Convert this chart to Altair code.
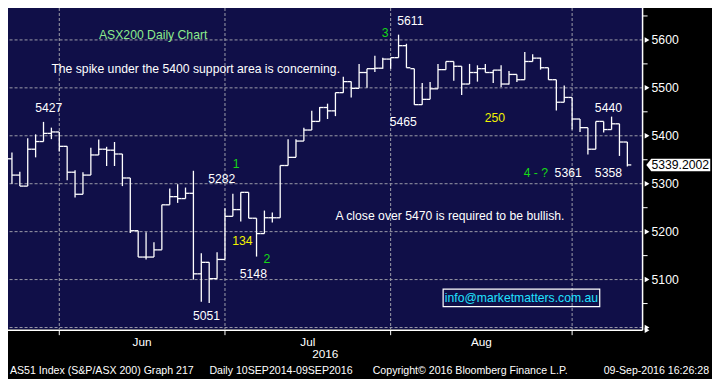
import altair as alt
import pandas as pd

# ---------------- data ----------------
dates = [
    "2016-05-23", "2016-05-24", "2016-05-25", "2016-05-26", "2016-05-27", "2016-05-30", "2016-05-31",
    "2016-06-01", "2016-06-02", "2016-06-03", "2016-06-06", "2016-06-07", "2016-06-08", "2016-06-09",
    "2016-06-10", "2016-06-14", "2016-06-15", "2016-06-16", "2016-06-17", "2016-06-20", "2016-06-21",
    "2016-06-22", "2016-06-23", "2016-06-24", "2016-06-27", "2016-06-28", "2016-06-29", "2016-06-30",
    "2016-07-01", "2016-07-04", "2016-07-05", "2016-07-06", "2016-07-07", "2016-07-08", "2016-07-11",
    "2016-07-12", "2016-07-13", "2016-07-14", "2016-07-15", "2016-07-18", "2016-07-19", "2016-07-20",
    "2016-07-21", "2016-07-22", "2016-07-25", "2016-07-26", "2016-07-27", "2016-07-28", "2016-07-29",
    "2016-08-01", "2016-08-02", "2016-08-03", "2016-08-04", "2016-08-05", "2016-08-08", "2016-08-09",
    "2016-08-10", "2016-08-11", "2016-08-12", "2016-08-15", "2016-08-16", "2016-08-17", "2016-08-18",
    "2016-08-19", "2016-08-22", "2016-08-23", "2016-08-24", "2016-08-25", "2016-08-26", "2016-08-29",
    "2016-08-30", "2016-08-31", "2016-09-01", "2016-09-02", "2016-09-05", "2016-09-06", "2016-09-07",
    "2016-09-08", "2016-09-09",
]
opens = [5352, 5318, 5295, 5372, 5388, 5405, 5408, 5378, 5324, 5278, 5318, 5360, 5372, 5370,
         5362, 5312, 5202, 5147, 5147, 5162, 5256, 5273, 5269, 5280, 5112, 5136, 5102, 5142,
         5232, 5246, 5282, 5228, 5196, 5229, 5229, 5338, 5355, 5389, 5412, 5430, 5459, 5452,
         5490, 5513, 5499, 5532, 5540, 5541, 5560, 5563, 5588, 5540, 5465, 5476, 5498, 5538,
         5555, 5545, 5508, 5532, 5540, 5532, 5537, 5508, 5528, 5517, 5555, 5562, 5542, 5517,
         5470, 5480, 5435, 5417, 5372, 5430, 5413, 5425, 5387]
highs = [5365, 5325, 5395, 5403, 5429, 5417, 5408, 5378, 5328, 5324, 5375, 5392, 5377, 5387,
         5362, 5312, 5202, 5199, 5178, 5256, 5290, 5299, 5292, 5327, 5155, 5136, 5157, 5249,
         5279, 5282, 5282, 5228, 5244, 5240, 5338, 5393, 5393, 5417, 5452, 5460, 5467, 5490,
         5523, 5513, 5550, 5540, 5567, 5563, 5563, 5611, 5592, 5540, 5510, 5512, 5550, 5555,
         5555, 5545, 5550, 5547, 5550, 5537, 5547, 5535, 5528, 5575, 5570, 5563, 5542, 5517,
         5505, 5480, 5435, 5417, 5430, 5430, 5440, 5425, 5387]
lows = [5300, 5295, 5295, 5355, 5388, 5393, 5367, 5307, 5271, 5278, 5318, 5360, 5337, 5337,
        5295, 5197, 5147, 5142, 5147, 5162, 5256, 5260, 5269, 5100, 5054, 5051, 5102, 5142,
        5232, 5221, 5228, 5148, 5196, 5219, 5229, 5338, 5355, 5389, 5412, 5430, 5435, 5441,
        5490, 5480, 5499, 5500, 5533, 5540, 5540, 5563, 5542, 5465, 5465, 5476, 5498, 5538,
        5515, 5485, 5508, 5513, 5532, 5510, 5502, 5507, 5512, 5517, 5555, 5538, 5517, 5453,
        5470, 5413, 5408, 5361, 5372, 5407, 5413, 5358, 5336]
closes = [5318, 5295, 5372, 5388, 5405, 5408, 5378, 5324, 5278, 5318, 5360, 5372, 5370, 5362,
          5312, 5202, 5147, 5147, 5162, 5256, 5273, 5269, 5280, 5112, 5136, 5102, 5142, 5232,
          5246, 5282, 5228, 5196, 5229, 5229, 5338, 5355, 5389, 5412, 5430, 5459, 5452, 5490,
          5513, 5499, 5532, 5540, 5541, 5560, 5563, 5588, 5542, 5465, 5476, 5498, 5538, 5555,
          5545, 5508, 5532, 5540, 5532, 5537, 5508, 5528, 5517, 5555, 5562, 5542, 5517, 5470,
          5480, 5435, 5417, 5372, 5430, 5413, 5425, 5387, 5339.2002]

last_price = 5339.2002
month_ends = [6, 27, 48, 71]          # last trading day of May, Jun, Jul, Aug
month_names = ["Jun", "Jul", "Aug"]
grid_levels = [5000, 5100, 5200, 5300, 5400, 5500, 5600]
label_levels = [5100, 5200, 5300, 5400, 5500, 5600]
minor_levels = [5050, 5150, 5250, 5350, 5450, 5550, 5650]
year_label = "2016"

ann_text = ["ASX200 Daily Chart", "The spike under the 5400 support area is concerning.", "5427", "1",
            "5282", "134", "2", "5148", "5051", "3", "5611", "5465", "250", "4 - ?", "5361", "5440",
            "5358", "A close over 5470 is required to be bullish."]
ann_i = [17.9, 5.0, 4.67, 28.4, 26.6, 29.2, 32.3, 30.6, 24.66, 47.3, 50.5, 49.6, 61.2, 66.4, 70.5,
         75.6, 75.6, 41.0]
ann_v = [5610, 5539, 5457, 5341, 5310, 5180, 5142, 5112, 5023, 5615, 5640, 5429, 5437, 5322, 5322,
         5458, 5322, 5233]
ann_color = ["#8CEB8C", "#FFFFFF", "#FFFFFF", "#16D816", "#FFFFFF", "#F2F200", "#16D816", "#FFFFFF",
             "#FFFFFF", "#16D816", "#FFFFFF", "#FFFFFF", "#F2F200", "#16D816", "#FFFFFF", "#FFFFFF",
             "#FFFFFF", "#FFFFFF"]
ann_align = ["center", "left", "center", "center", "center", "center", "center", "center", "center",
             "center", "center", "center", "center", "center", "center", "center", "center", "left"]

email_text = "info@marketmatters.com.au"
email_i = [54.65, 74.5]
email_v = [5043.4, 5080.0]

footer_text = ["AS51 Index (S&P/ASX 200) Graph 217", "Daily 10SEP2014-09SEP2016",
               "Copyright\u00a9 2016 Bloomberg Finance L.P.", "09-Sep-2016 16:26:28"]

# ---------------- layout ----------------
SX = 704 / 720
SY = 371 / 387
W = 649 * SX
H = 335 * SY
FONT = "Liberation Sans"
NAVY = "#100F48"

df = pd.DataFrame({"i": list(range(len(dates))), "date": dates, "open": opens,
                   "high": highs, "low": lows, "close": closes})
df["il"] = df["i"] - 0.5
df["ir"] = df["i"] + 0.5

xs = alt.Scale(domain=[-0.5, 79.93], nice=False, zero=False)
ys = alt.Scale(domain=[4996.6, 5666.6], nice=False, zero=False)


def X(field):
    return alt.X(field, scale=xs, axis=None)


def Y(field):
    return alt.Y(field, scale=ys, axis=None)


grid_y = alt.Chart(pd.DataFrame({"v": grid_levels})).mark_rule(
    color="#9C9CA8", strokeDash=[3, 2], strokeWidth=1).encode(y=Y("v:Q"))
grid_x = alt.Chart(pd.DataFrame({"m": month_ends})).mark_rule(
    color="#9C9CA8", strokeDash=[3, 2], strokeWidth=1).encode(x=X("m:Q"))

hl = alt.Chart(df).mark_rule(color="white", strokeWidth=1.3).encode(
    x=X("i:Q"), y=Y("low:Q"), y2="high:Q")
op = alt.Chart(df).mark_rule(color="white", strokeWidth=1.3).encode(
    x=X("il:Q"), x2="i:Q", y=Y("open:Q"))
cl = alt.Chart(df).mark_rule(color="white", strokeWidth=1.3).encode(
    x=X("i:Q"), x2="ir:Q", y=Y("close:Q"))

ann_df = pd.DataFrame({"t": ann_text, "i": ann_i, "v": ann_v, "c": ann_color, "a": ann_align})
ann_c = alt.Chart(ann_df[ann_df.a == "center"]).mark_text(
    font=FONT, fontSize=12.2, align="center", baseline="middle").encode(
    x=X("i:Q"), y=Y("v:Q"), text="t:N", color=alt.Color("c:N", scale=None))
ann_l = alt.Chart(ann_df[ann_df.a == "left"]).mark_text(
    font=FONT, fontSize=12.2, align="left", baseline="middle").encode(
    x=X("i:Q"), y=Y("v:Q"), text="t:N", color=alt.Color("c:N", scale=None))

box_df = pd.DataFrame({"i1": [email_i[0]], "i2": [email_i[1]], "v1": [email_v[0]],
                       "v2": [email_v[1]], "t": [email_text],
                       "im": [(email_i[0] + email_i[1]) / 2], "vm": [(email_v[0] + email_v[1]) / 2]})
email_box = alt.Chart(box_df).mark_rect(fillOpacity=0, stroke="white", strokeWidth=1.2).encode(
    x=X("i1:Q"), x2="i2:Q", y=Y("v1:Q"), y2="v2:Q")
email_txt = alt.Chart(box_df).mark_text(font=FONT, fontSize=12.2, color="#20E2FF",
                                        align="center", baseline="middle").encode(
    x=X("im:Q"), y=Y("vm:Q"), text="t:N")

# ---- hand-drawn axes ----
right_dom = alt.Chart(pd.DataFrame({"a": [0]})).mark_rule(color="white", strokeWidth=1.5).encode(
    x=alt.value(W), y=alt.value(0), y2=alt.value(H + 1))
bottom_dom = alt.Chart(pd.DataFrame({"a": [0]})).mark_rule(color="white", strokeWidth=1.5).encode(
    x=alt.value(0), x2=alt.value(W), y=alt.value(H + 1))
x_ticks = alt.Chart(pd.DataFrame({"m": month_ends})).mark_rule(color="white", strokeWidth=1).encode(
    x=X("m:Q"), y=alt.value(H + 1), y2=alt.value(H + 6))
minor = alt.Chart(pd.DataFrame({"v": minor_levels})).mark_rule(color="white", strokeWidth=1).encode(
    x=alt.value(W), x2=alt.value(W + 5), y=Y("v:Q"))
tri = alt.Chart(pd.DataFrame({"v": grid_levels})).mark_point(
    shape="triangle-right", filled=True, color="white", size=30, opacity=1).encode(
    x=alt.value(W + 4.5), y=Y("v:Q"))
y_labels = alt.Chart(pd.DataFrame({"v": label_levels})).mark_text(
    font=FONT, fontSize=12.2, color="white", align="left", baseline="middle").encode(
    x=alt.value(W + 9), y=Y("v:Q"), text=alt.Text("v:Q", format="d"))
arrow = alt.Chart(pd.DataFrame({"a": [0]})).mark_point(
    shape="triangle-right", filled=True, color="white", size=30, opacity=1).encode(
    x=alt.value(W + 4.5), y=alt.value(H + 1))

flag_path = "M -5.15 0 L -4.35 -1 L 5.15 -1 L 5.15 1 L -4.35 1 Z"
price_df = pd.DataFrame({"v": [last_price], "t": [f"{last_price:.4f}"]})
flag = alt.Chart(price_df).mark_point(shape=flag_path, filled=True, color="white",
                                      size=154, opacity=1, strokeWidth=0).encode(
    x=alt.value(685.5 * SX), y=Y("v:Q"))
flag_txt = alt.Chart(price_df).mark_text(font=FONT, fontSize=12.2, color="black",
                                         align="center", baseline="middle").encode(
    x=alt.value(687.5 * SX), y=Y("v:Q"), text="t:N")

mdf = pd.DataFrame({"m": month_names,
                    "mid": [(month_ends[k] + month_ends[k + 1]) / 2 for k in range(len(month_names))]})
months = alt.Chart(mdf).mark_text(font=FONT, fontSize=11.8, color="white",
                                  align="center", baseline="middle").encode(
    x=X("mid:Q"), y=alt.value(348 * SY), text="m:N")
year = alt.Chart(pd.DataFrame({"t": [year_label]})).mark_text(
    font=FONT, fontSize=11.8, color="white", align="center", baseline="middle").encode(
    x=alt.value(W / 2), y=alt.value(361 * SY), text="t:N")

foot_x = [2 * SX, 206 * SX, 373 * SX]
foot_l = alt.layer(*[
    alt.Chart(pd.DataFrame({"t": [footer_text[k]]})).mark_text(
        font=FONT, fontSize=10.6, color="white", align="left", baseline="middle").encode(
        x=alt.value(foot_x[k]), y=alt.value(379 * SY), text="t:N")
    for k in range(3)
])
foot_r = alt.Chart(pd.DataFrame({"t": [footer_text[3]]})).mark_text(
    font=FONT, fontSize=10.6, color="white", align="right", baseline="middle").encode(
    x=alt.value(717 * SX), y=alt.value(379 * SY), text="t:N")

chart = alt.layer(
    grid_y, grid_x, hl, op, cl, ann_c, ann_l, email_box, email_txt,
    right_dom, bottom_dom, x_ticks, minor, tri, arrow, y_labels, flag, flag_txt,
    months, year, foot_l, foot_r,
).properties(
    width=W, height=H,
    autosize=alt.AutoSizeParams(type="none"),
    padding={"left": 0, "top": 0, "right": 704 - W, "bottom": 371 - H},
    background="black",
).configure_view(fill=NAVY, strokeWidth=0)

chart.save("out.html", embed_options={"renderer": "svg", "actions": False})
